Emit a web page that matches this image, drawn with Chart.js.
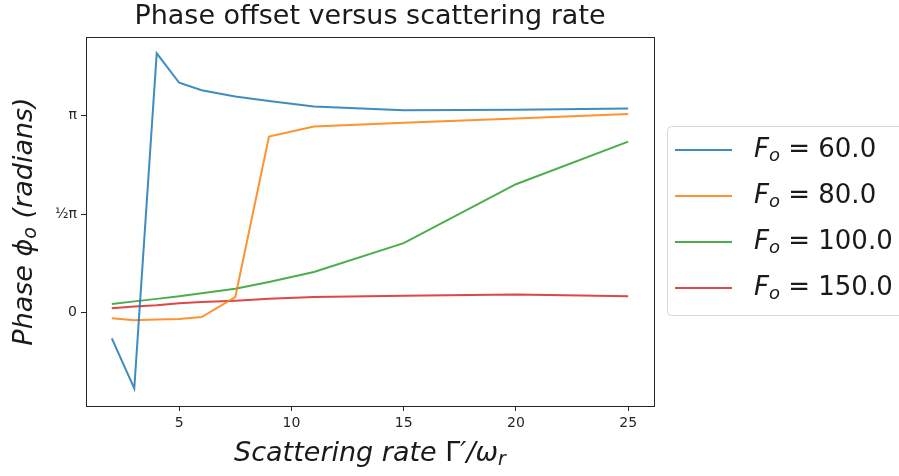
<!DOCTYPE html>
<html>
<head>
<meta charset="utf-8">
<script src="https://cdn.jsdelivr.net/npm/chart.js@4.4.1/dist/chart.umd.min.js"></script>
<style>
  html, body { margin: 0; padding: 0; background: #fff; }
  canvas { display: block; }
</style>
</head>
<body>
<canvas id="grafica" width="899" height="476"></canvas>
<script>
// scattering rate Γ'/ω_r on x, phase offset (radians) on y
const scatteringRate = [2, 3, 4, 5, 6, 7.5, 9, 11, 15, 20, 25];
const phaseF60  = [-0.41, -1.21, 4.14, 3.67, 3.55, 3.45, 3.38, 3.29, 3.23, 3.24, 3.26];
const phaseF80  = [-0.09, -0.12, -0.11, -0.10, -0.07, 0.25, 2.81, 2.97, 3.03, 3.10, 3.17];
const phaseF100 = [0.14, 0.18, 0.22, 0.26, 0.31, 0.38, 0.49, 0.65, 1.11, 2.05, 2.73];
const phaseF150 = [0.07, 0.10, 0.12, 0.15, 0.17, 0.19, 0.22, 0.25, 0.27, 0.29, 0.26];
const forceLabels = ["60.0", "80.0", "100.0", "150.0"];
const lineColors = ["rgba(31,119,180,0.85)", "rgba(255,127,14,0.85)", "rgba(44,160,44,0.85)", "rgba(214,39,40,0.85)"];

const xTicks = [5, 10, 15, 20, 25];
const yTicks = [0, Math.PI / 2, Math.PI];
const yTickLabels = ["0", "½π", "π"];

const FONT = "'DejaVu Sans', sans-serif";

function pts(ys) {
    return scatteringRate.map((x, i) => ({ x: x, y: ys[i] }));
}

// draws a run of text pieces (for subscripts) centred on x
function richText(ctx, parts, x, y, align) {
    let total = 0;
    parts.forEach(p => { ctx.font = p.font; p.w = ctx.measureText(p.t).width; total += p.w; });
    let cx = align === "left" ? x : x - total / 2;
    ctx.textBaseline = "middle";
    ctx.textAlign = "left";
    parts.forEach(p => {
        ctx.font = p.font;
        ctx.fillText(p.t, cx, y + (p.dy || 0));
        cx += p.w;
    });
}

const decor = {
    id: "decor",
    afterDraw(chart) {
        const ctx = chart.ctx;
        const a = chart.chartArea;
        ctx.save();

        // frame
        ctx.strokeStyle = "#262626";
        ctx.lineWidth = 1;
        ctx.strokeRect(Math.round(a.left) + 0.5, Math.round(a.top) + 0.5,
            Math.round(a.right - a.left), Math.round(a.bottom - a.top));

        ctx.fillStyle = "#1a1a1a";
        // title
        ctx.font = "27px " + FONT;
        ctx.textAlign = "center";
        ctx.textBaseline = "middle";
        ctx.fillText("Phase offset versus scattering rate", (a.left + a.right) / 2, 17);

        // x label
        richText(ctx, [
            { t: "Scattering rate ", font: "italic 27px " + FONT },
            { t: "Γ", font: "27px " + FONT },
            { t: "′/ω", font: "italic 27px " + FONT },
            { t: "r", font: "italic 19px " + FONT, dy: 6 }
        ], (a.left + a.right) / 2, 454);

        // y label
        ctx.save();
        ctx.translate(25, (a.top + a.bottom) / 2);
        ctx.rotate(-Math.PI / 2);
        richText(ctx, [
            { t: "Phase ϕ", font: "italic 27px " + FONT },
            { t: "o", font: "italic 19px " + FONT, dy: 6 },
            { t: " (radians)", font: "italic 27px " + FONT }
        ], 0, 0);
        ctx.restore();

        // legend
        const lx = 667.5, ly = 126.5, lw = 245, lh = 189, r = 4;
        ctx.beginPath();
        ctx.moveTo(lx + r, ly);
        ctx.lineTo(lx + lw - r, ly);
        ctx.arcTo(lx + lw, ly, lx + lw, ly + r, r);
        ctx.lineTo(lx + lw, ly + lh - r);
        ctx.arcTo(lx + lw, ly + lh, lx + lw - r, ly + lh, r);
        ctx.lineTo(lx + r, ly + lh);
        ctx.arcTo(lx, ly + lh, lx, ly + lh - r, r);
        ctx.lineTo(lx, ly + r);
        ctx.arcTo(lx, ly, lx + r, ly, r);
        ctx.closePath();
        ctx.fillStyle = "rgba(255,255,255,0.8)";
        ctx.fill();
        ctx.strokeStyle = "#d6d6d6";
        ctx.stroke();

        chart.data.datasets.forEach((ds, i) => {
            const y = 150 + i * 46;
            ctx.strokeStyle = ds.borderColor;
            ctx.lineWidth = 2;
            ctx.beginPath();
            ctx.moveTo(675, y);
            ctx.lineTo(732, y);
            ctx.stroke();
            ctx.fillStyle = "#1a1a1a";
            richText(ctx, [
                { t: "F", font: "italic 26px " + FONT },
                { t: "o", font: "italic 18px " + FONT, dy: 6 },
                { t: " = " + forceLabels[i], font: "26px " + FONT }
            ], 754, y, "left");
        });

        ctx.restore();
    }
};

const datasets = [phaseF60, phaseF80, phaseF100, phaseF150].map((ys, i) => ({
    label: "F_o = " + forceLabels[i],
    data: pts(ys),
    borderColor: lineColors[i],
    backgroundColor: lineColors[i],
    borderWidth: 2,
    pointRadius: 0,
    tension: 0,
    fill: false
}));

new Chart(document.getElementById("grafica"), {
    type: "line",
    data: { datasets: datasets },
    options: {
        responsive: false,
        animation: false,
        devicePixelRatio: 1,
        layout: { padding: { top: 37, right: 899 - 654, left: 0, bottom: 0 } },
        plugins: {
            legend: { display: false },
            title: { display: false },
            tooltip: { enabled: false }
        },
        scales: {
            x: {
                type: "linear",
                min: 0.85,
                max: 26.15,
                afterBuildTicks: s => { s.ticks = xTicks.map(v => ({ value: v })); },
                afterFit: s => { s.height = 70; },
                grid: { drawOnChartArea: false, tickLength: 5, color: "#262626" },
                border: { color: "#262626" },
                ticks: { color: "#262626", font: { family: FONT, size: 14 }, padding: 4, maxRotation: 0 }
            },
            y: {
                type: "linear",
                min: -1.49,
                max: 4.40,
                afterBuildTicks: s => { s.ticks = yTicks.map(v => ({ value: v })); },
                afterFit: s => { s.width = 86; },
                grid: { drawOnChartArea: false, tickLength: 5, color: "#262626" },
                border: { color: "#262626" },
                ticks: {
                    color: "#262626",
                    font: { family: FONT, size: 14 },
                    padding: 4,
                    callback: (v, i) => yTickLabels[i]
                }
            }
        }
    },
    plugins: [decor]
});
</script>
</body>
</html>
